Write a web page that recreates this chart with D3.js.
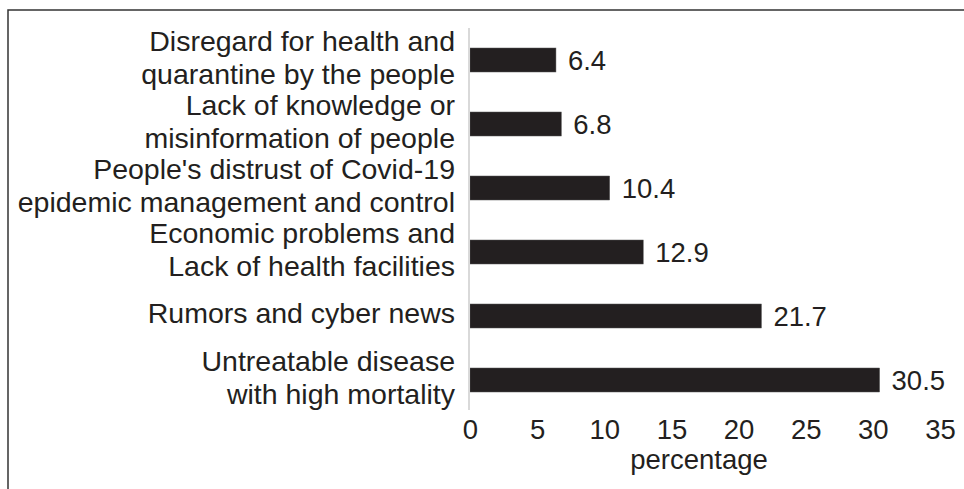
<!DOCTYPE html>
<html>
<head>
<meta charset="utf-8">
<style>
body { margin: 0; background: #fff; }
svg text { font-family: "Liberation Sans", Arial, Helvetica, sans-serif; fill: #231f20; }
.frame { stroke: #333; stroke-width: 1.5; fill: none; }
.bar { fill: #231f20; stroke: #555; stroke-width: 0.5; }
</style>
</head>
<body>
<svg width="964" height="489"></svg>
<script src="https://d3js.org/d3.v7.min.js"></script>
<script>

// data, top to bottom as in the figure
var categories = [
  "Disregard for health and|quarantine by the people",
  "Lack of knowledge or|misinformation of people",
  "People's distrust of Covid-19|epidemic management and control",
  "Economic problems and|Lack of health facilities",
  "Rumors and cyber news",
  "Untreatable disease|with high mortality"
];
var values = [6.4, 6.8, 10.4, 12.9, 21.7, 30.5];
var xTicks = [0, 5, 10, 15, 20, 25, 30, 35];
var xTitle = "percentage";

var svg = d3.select("svg");
var catFs = 28.5, numFs = 27.5, lineH = 33;

// frame (only top and left edges show in the source)
svg.append("path").attr("class", "frame").attr("d", "M8,489V10H964");

var x = d3.scaleLinear().domain([0, 35]).range([470, 940]);
var y = d3.scaleBand().domain(d3.range(categories.length))
    .range([28, 412]).paddingInner(0.625).paddingOuter(0.3125);

svg.selectAll(".bar")
    .data(values)
  .enter().append("rect")
    .attr("class", "bar")
    .attr("x", x(0))
    .attr("y", function(d, i) { return y(i); })
    .attr("width", function(d) { return x(d) - x(0); })
    .attr("height", y.bandwidth());

// value labels
svg.selectAll(".val")
    .data(values)
  .enter().append("text")
    .attr("class", "val")
    .attr("x", function(d) { return x(d) + 12; })
    .attr("y", function(d, i) { return y(i) + y.bandwidth() / 2 + 10; })
    .attr("font-size", numFs)
    .text(function(d) { return d.toFixed(1); });

// category labels
var cat = svg.selectAll(".cat")
    .data(categories)
  .enter().append("text")
    .attr("class", "cat")
    .attr("text-anchor", "end")
    .attr("font-size", catFs);
cat.each(function(d, i) {
  var lines = d.split("|"), c = y(i) + y.bandwidth() / 2;
  d3.select(this).selectAll("tspan")
      .data(lines)
    .enter().append("tspan")
      .attr("x", 455)
      .attr("y", function(l, j) { return c + (j - (lines.length - 1) / 2) * lineH + 7; })
      .text(function(l) { return l; });
});

// y axis line
svg.append("line")
    .attr("x1", x(0) - 1).attr("x2", x(0) - 1)
    .attr("y1", 28).attr("y2", 410)
    .attr("stroke", "#d9d9d9").attr("stroke-width", 2);

// x axis
var xAxis = svg.append("g")
    .attr("transform", "translate(0,419)")
    .call(d3.axisBottom(x).tickValues(xTicks).tickSize(0).tickPadding(0));
xAxis.select(".domain").remove();
xAxis.selectAll("text")
    .attr("font-size", numFs)
    .attr("dy", "0.72em")
    .style("font-family", "'Liberation Sans', Arial, sans-serif")
    .attr("fill", "#231f20");

svg.append("text")
    .attr("x", (x(0) + x(35)) / 2 - 6)
    .attr("y", 469)
    .attr("text-anchor", "middle")
    .attr("font-size", numFs)
    .text(xTitle);

</script>
</body>
</html>
